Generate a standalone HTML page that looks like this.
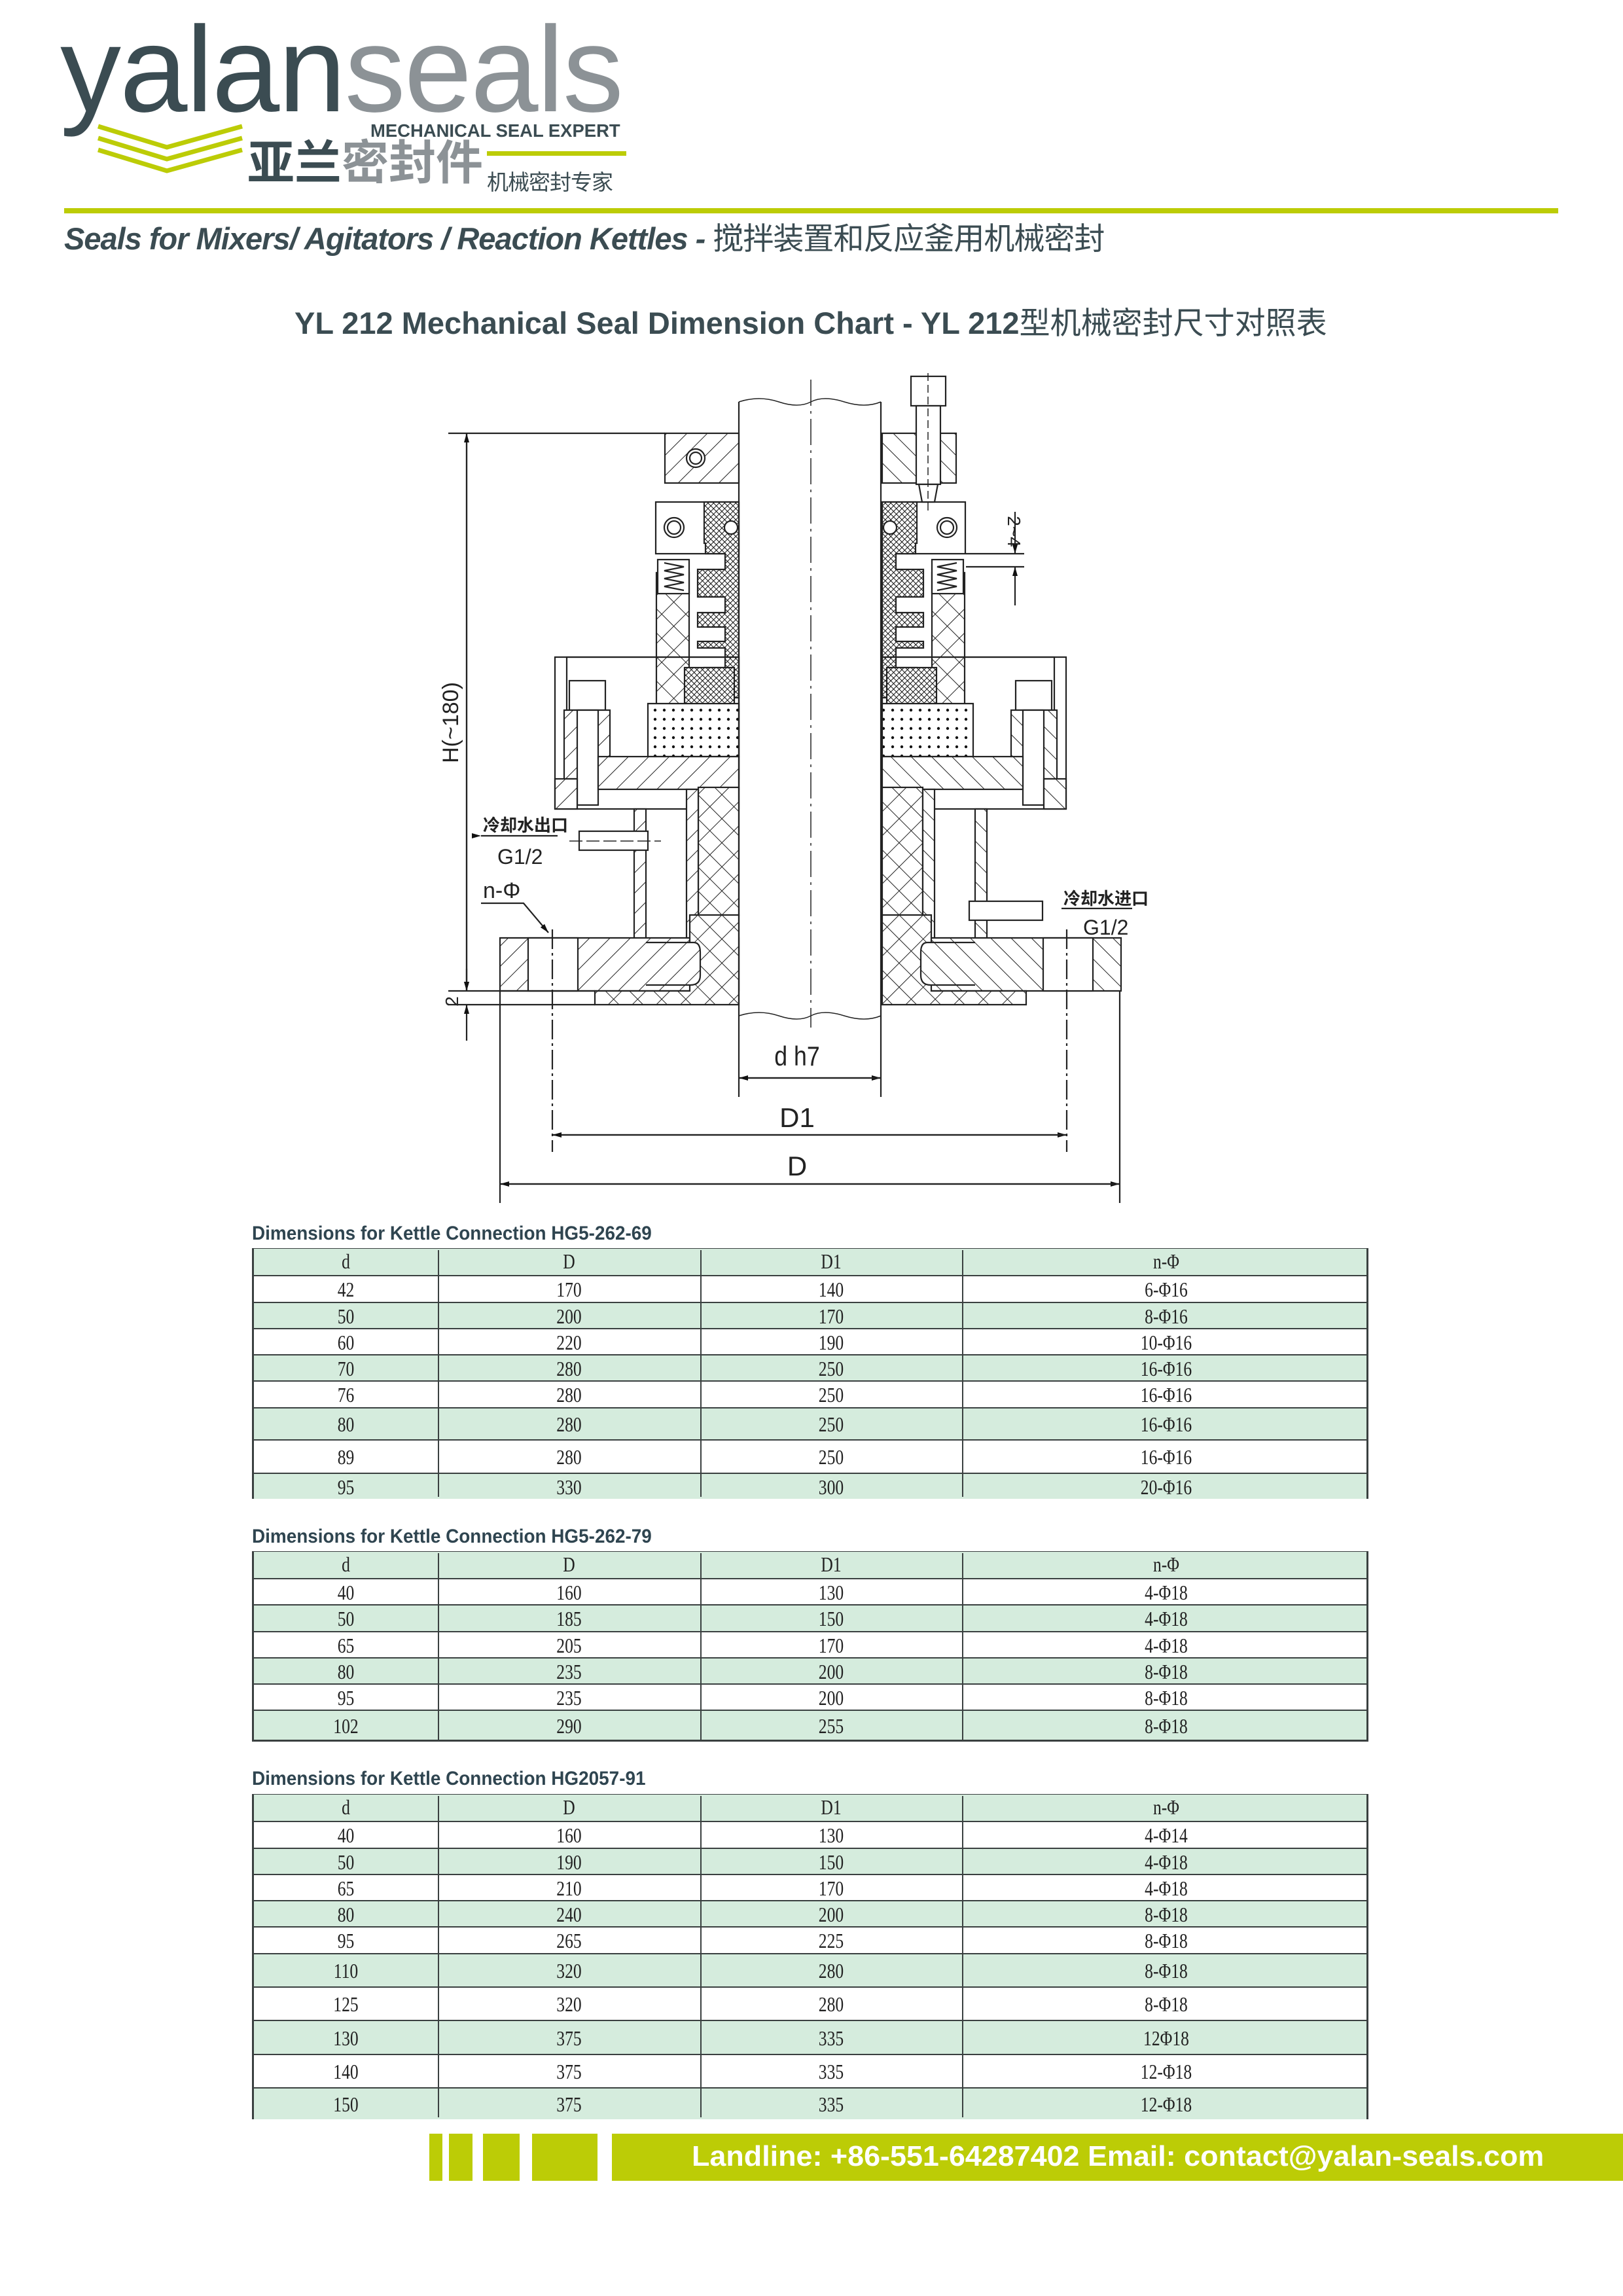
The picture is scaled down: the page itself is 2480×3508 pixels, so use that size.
<!DOCTYPE html>
<html><head><meta charset="utf-8">
<style>
*{margin:0;padding:0;box-sizing:border-box}
body{width:2480px;height:3508px;background:#fff;position:relative;overflow:hidden;font-family:"Liberation Sans","Noto Sans CJK SC",sans-serif}
.a{position:absolute;white-space:nowrap}
.tbl{position:absolute;left:385px;width:1706px;border:3px solid #3a4040}
.row{position:absolute;left:0;width:100%;border-top:2px solid #3a4040;font-family:"Liberation Serif","Noto Serif CJK SC",serif;font-size:32px;color:#222}
.row.g{background:#d5ecdd}
.row span{position:absolute;top:0;text-align:center;transform:scaleX(.8)}
.c1{left:0;width:281px}.c2{left:281px;width:401px}.c3{left:682px;width:400px}.c4{left:1082px;width:624px}
.vl{position:absolute;top:0;bottom:0;width:2px;background:#3a4040}
.cap{position:absolute;left:385px;font-size:30px;font-weight:bold;color:#2f4550;transform-origin:left;transform:scaleX(.93)}
</style></head><body>

<!-- logo -->
<div class="a" style="left:92px;top:14px;font-size:186px;letter-spacing:-2px;line-height:1;color:#3b4c52;font-weight:normal">yalan<span style="color:#8c9296">seals</span></div>
<svg class="a" style="left:145px;top:185px" width="240" height="80"><polyline points="5,8 110,40 225,8" fill="none" stroke="#bccc06" stroke-width="7"/><polyline points="5,26 110,58 225,26" fill="none" stroke="#bccc06" stroke-width="7"/><polyline points="5,44 110,76 225,44" fill="none" stroke="#bccc06" stroke-width="7"/></svg>
<div class="a" style="left:566px;top:184px;font-size:28px;font-weight:bold;color:#3b4c52;transform-origin:left;transform:scaleX(.98)">MECHANICAL SEAL EXPERT</div>
<div class="a" style="left:378px;top:214px;font-size:72px;font-weight:bold;line-height:1;color:#3b4c52;letter-spacing:0px">亚兰<span style="color:#8c9296">密封件</span></div>
<div class="a" style="left:744px;top:231px;width:213px;height:7px;background:#bccc06"></div>
<div class="a" style="left:744px;top:252px;font-size:33px;color:#3b4c52;letter-spacing:-1px">机械密封专家</div>

<div class="a" style="left:98px;top:318px;width:2283px;height:8px;background:#bccc06"></div>
<div class="a" style="left:98px;top:326px;font-size:47px;font-weight:bold;font-style:italic;color:#3b4c52;letter-spacing:-1px">Seals for Mixers/ Agitators / Reaction Kettles - <span style="font-weight:normal;font-style:normal">搅拌装置和反应釜用机械密封</span></div>
<div class="a" style="left:450px;top:455px;font-size:47px;font-weight:bold;color:#3b4c52;letter-spacing:0px">YL 212 Mechanical Seal Dimension Chart - YL 212<span style="font-weight:normal">型机械密封尺寸对照表</span></div>

<!-- drawing -->
<svg class="a" style="left:0;top:0" width="2480" height="1900" viewBox="0 0 2480 1900">
<defs>
<pattern id="h" width="22" height="22" patternUnits="userSpaceOnUse" patternTransform="rotate(45)"><rect width="22" height="22" fill="#fff"/><line x1="0" y1="0" x2="0" y2="22" stroke="#222" stroke-width="2"/></pattern>
<pattern id="x" width="26" height="26" patternUnits="userSpaceOnUse" patternTransform="rotate(45)"><rect width="26" height="26" fill="#fff"/><line x1="0" y1="0" x2="0" y2="26" stroke="#222" stroke-width="2"/><line x1="0" y1="0" x2="26" y2="0" stroke="#222" stroke-width="2"/></pattern>
<pattern id="d" width="6" height="6" patternUnits="userSpaceOnUse" patternTransform="rotate(45)"><rect width="6" height="6" fill="#fff"/><line x1="0" y1="0" x2="0" y2="6" stroke="#111" stroke-width="2"/><line x1="0" y1="0" x2="6" y2="0" stroke="#111" stroke-width="2"/></pattern>
<pattern id="p" width="14" height="14" patternUnits="userSpaceOnUse"><rect width="14" height="14" fill="#fff"/><circle cx="7" cy="7" r="2.2" fill="#111"/></pattern>
<marker id="ar" markerWidth="14" markerHeight="8" refX="14" refY="4" orient="auto" markerUnits="userSpaceOnUse"><path d="M0,0 L14,4 L0,8z" fill="#111"/></marker>
<g id="half" stroke="#222" stroke-width="2.2">
 <rect x="1016" y="662" width="113" height="76" fill="url(#h)"/>
 <circle cx="1063" cy="700" r="14" fill="#fff"/><circle cx="1063" cy="700" r="9" fill="none"/>
 <rect x="1002" y="767" width="127" height="79" fill="#fff"/>
 <circle cx="1030" cy="806" r="15" fill="#fff"/><circle cx="1030" cy="806" r="10" fill="none"/>
 <path d="M1076 767 H1129 V1066 H1076 V1020 H1108 V990 H1066 V980 H1108 V958 H1066 V936 H1108 V912 H1066 V870 H1108 V846 H1078 V830 H1076 Z" fill="url(#d)"/>
 <circle cx="1117" cy="806" r="10" fill="#fff"/>
 <path d="M1003 875 H1053 V1066 L1040 1087 H1003 Z" fill="url(#x)"/>
 <rect x="1005" y="855" width="48" height="52" fill="#fff"/>
 <polyline points="1015,860 1045,866 1015,872 1045,878 1015,884 1045,890 1015,896 1045,902" fill="none"/>
 <rect x="1046" y="1020" width="76" height="70" fill="url(#d)"/>
 <rect x="848" y="1004" width="281" height="232" fill="none"/>
 <rect x="866" y="1004" width="263" height="186" fill="none"/>
 <path d="M990 1075 H1129 V1156 H990 Z" fill="url(#p)"/>
 <rect x="870" y="1040" width="55" height="45" fill="#fff"/>
 <rect x="862" y="1085" width="70" height="105" fill="url(#h)"/>
 <rect x="882" y="1085" width="32" height="145" fill="#fff"/>
 <rect x="848" y="1190" width="34" height="46" fill="url(#h)"/>
 <rect x="914" y="1156" width="215" height="50" fill="url(#h)"/>
 <rect x="1067" y="1203" width="62" height="196" fill="url(#x)"/>
 <rect x="1049" y="1206" width="18" height="234" fill="url(#h)"/>
 <rect x="969" y="1236" width="18" height="204" fill="url(#h)"/>
 <path d="M764 1433 H1129 V1514 H764 Z" fill="url(#h)"/>
 <rect x="807" y="1433" width="76" height="81" fill="#fff"/>
 <path d="M1054 1398 H1129 V1535 H909 V1514 H1054 Z" fill="url(#x)"/>
 <path d="M987 1440 H1060 Q1070 1440 1070 1455 V1490 Q1070 1505 1055 1505 H987" fill="url(#h)"/>
</g>
</defs>
<use href="#half"/>
<use href="#half" transform="translate(2477,0) scale(-1,1)"/>
<g stroke="#222" stroke-width="2.2" fill="none">
 <line x1="1129" y1="614" x2="1129" y2="1676"/><line x1="1346" y1="614" x2="1346" y2="1676"/>
 <path d="M1129 614 Q1160 604 1190 614 T1239 614 T1290 614 T1346 614" stroke-width="1.5"/>
 <path d="M1129 1552 Q1160 1542 1190 1552 T1239 1552 T1290 1552 T1346 1552" stroke-width="1.5"/>
 <line x1="1239" y1="580" x2="1239" y2="1570" stroke-dasharray="40 8 4 8" stroke-width="1.5"/>
 <rect x="1392" y="575" width="53" height="45" fill="#fff"/>
 <rect x="1400" y="620" width="37" height="120" fill="#fff"/>
 <path d="M1404 740 H1433 L1428 767 H1409 Z" fill="#fff"/>
 <line x1="1418" y1="570" x2="1418" y2="780" stroke-dasharray="12 6" stroke-width="1.5"/>
 <rect x="885" y="1270" width="105" height="29" fill="#fff"/>
 <line x1="870" y1="1285" x2="1010" y2="1285" stroke-dasharray="20 6" stroke-width="1.5"/>
 <rect x="1481" y="1377" width="112" height="29" fill="#fff"/>
 <line x1="685" y1="662" x2="1016" y2="662"/>
 <line x1="713" y1="662" x2="713" y2="1514" marker-end="url(#ar)"/>
 <line x1="713" y1="1514" x2="713" y2="662" marker-end="url(#ar)"/>
 <line x1="685" y1="1514" x2="909" y2="1514"/><line x1="685" y1="1535" x2="909" y2="1535"/>
 <line x1="713" y1="1480" x2="713" y2="1514" marker-end="url(#ar)"/>
 <line x1="713" y1="1590" x2="713" y2="1535" marker-end="url(#ar)"/>
 <line x1="1551" y1="782" x2="1551" y2="846" marker-end="url(#ar)"/>
 <line x1="1551" y1="925" x2="1551" y2="866" marker-end="url(#ar)"/>
 <line x1="1476" y1="846" x2="1565" y2="846"/><line x1="1476" y1="866" x2="1565" y2="866"/>
 <line x1="1129" y1="1647" x2="1346" y2="1647" marker-end="url(#ar)"/>
 <line x1="1346" y1="1647" x2="1129" y2="1647" marker-end="url(#ar)"/>
 <line x1="844" y1="1420" x2="844" y2="1760" stroke-dasharray="30 6 4 6"/>
 <line x1="1630" y1="1420" x2="1630" y2="1760" stroke-dasharray="30 6 4 6"/>
 <line x1="844" y1="1734" x2="1630" y2="1734" marker-end="url(#ar)"/>
 <line x1="1630" y1="1734" x2="844" y2="1734" marker-end="url(#ar)"/>
 <line x1="764" y1="1514" x2="764" y2="1838"/><line x1="1711" y1="1514" x2="1711" y2="1838"/>
 <line x1="764" y1="1809" x2="1711" y2="1809" marker-end="url(#ar)"/>
 <line x1="1711" y1="1809" x2="764" y2="1809" marker-end="url(#ar)"/>
 <line x1="735" y1="1277" x2="852" y2="1277" marker-start="url(#ar)"/>
 <line x1="1622" y1="1388" x2="1730" y2="1388"/>
 <polyline points="735,1380 800,1380 838,1425" marker-end="url(#ar)"/>
</g>
<g font-family="Liberation Sans,Noto Sans CJK SC,sans-serif" fill="#222">
 <text x="1218" y="1628" font-size="42" text-anchor="middle" transform="translate(1218 0) scale(.85 1) translate(-1218 0)">d h7</text>
 <text x="1218" y="1722" font-size="42" text-anchor="middle">D1</text>
 <text x="1218" y="1796" font-size="42" text-anchor="middle">D</text>
 <text transform="translate(700 1104) rotate(-90)" font-size="34" text-anchor="middle">H(~180)</text>
 <text transform="translate(700 1530) rotate(-90)" font-size="28" text-anchor="middle">2</text>
 <text transform="translate(1540 812) rotate(90)" font-size="28" text-anchor="middle">2~4</text>
 <text x="738" y="1270" font-size="26" font-weight="bold">冷却水出口</text>
 <text x="760" y="1320" font-size="32">G1/2</text>
 <text x="738" y="1372" font-size="34">n-Φ</text>
 <text x="1625" y="1382" font-size="26" font-weight="bold">冷却水进口</text>
 <text x="1655" y="1428" font-size="32">G1/2</text>
</g>
</svg>

<!-- table 1 -->
<div class="cap" style="top:1868px">Dimensions for Kettle Connection HG5-262-69</div>
<div class="tbl" style="top:1907px;height:383px">
 <div class="row g" style="top:-2px;height:40px;line-height:38px;border-top:0"><span class="c1">d</span><span class="c2">D</span><span class="c3">D1</span><span class="c4">n-Φ</span></div>
 <div class="row" style="top:38px;height:41px;line-height:41px"><span class="c1">42</span><span class="c2">170</span><span class="c3">140</span><span class="c4">6-Φ16</span></div>
 <div class="row g" style="top:79px;height:40px;line-height:40px"><span class="c1">50</span><span class="c2">200</span><span class="c3">170</span><span class="c4">8-Φ16</span></div>
 <div class="row" style="top:119px;height:40px;line-height:40px"><span class="c1">60</span><span class="c2">220</span><span class="c3">190</span><span class="c4">10-Φ16</span></div>
 <div class="row g" style="top:159px;height:40px;line-height:40px"><span class="c1">70</span><span class="c2">280</span><span class="c3">250</span><span class="c4">16-Φ16</span></div>
 <div class="row" style="top:199px;height:41px;line-height:41px"><span class="c1">76</span><span class="c2">280</span><span class="c3">250</span><span class="c4">16-Φ16</span></div>
 <div class="row g" style="top:240px;height:49px;line-height:49px"><span class="c1">80</span><span class="c2">280</span><span class="c3">250</span><span class="c4">16-Φ16</span></div>
 <div class="row" style="top:289px;height:51px;line-height:51px"><span class="c1">89</span><span class="c2">280</span><span class="c3">250</span><span class="c4">16-Φ16</span></div>
 <div class="row g" style="top:340px;height:40px;line-height:40px"><span class="c1">95</span><span class="c2">330</span><span class="c3">300</span><span class="c4">20-Φ16</span></div>
 <div class="vl" style="left:281px"></div><div class="vl" style="left:682px"></div><div class="vl" style="left:1082px"></div>
</div>

<!-- table 2 -->
<div class="cap" style="top:2331px">Dimensions for Kettle Connection HG5-262-79</div>
<div class="tbl" style="top:2370px;height:291px">
 <div class="row g" style="top:-2px;height:40px;line-height:38px;border-top:0"><span class="c1">d</span><span class="c2">D</span><span class="c3">D1</span><span class="c4">n-Φ</span></div>
 <div class="row" style="top:38px;height:40px;line-height:40px"><span class="c1">40</span><span class="c2">160</span><span class="c3">130</span><span class="c4">4-Φ18</span></div>
 <div class="row g" style="top:78px;height:41px;line-height:41px"><span class="c1">50</span><span class="c2">185</span><span class="c3">150</span><span class="c4">4-Φ18</span></div>
 <div class="row" style="top:119px;height:40px;line-height:40px"><span class="c1">65</span><span class="c2">205</span><span class="c3">170</span><span class="c4">4-Φ18</span></div>
 <div class="row g" style="top:159px;height:40px;line-height:40px"><span class="c1">80</span><span class="c2">235</span><span class="c3">200</span><span class="c4">8-Φ18</span></div>
 <div class="row" style="top:199px;height:40px;line-height:40px"><span class="c1">95</span><span class="c2">235</span><span class="c3">200</span><span class="c4">8-Φ18</span></div>
 <div class="row g" style="top:239px;height:46px;line-height:46px"><span class="c1">102</span><span class="c2">290</span><span class="c3">255</span><span class="c4">8-Φ18</span></div>
 <div class="vl" style="left:281px"></div><div class="vl" style="left:682px"></div><div class="vl" style="left:1082px"></div>
</div>

<!-- table 3 -->
<div class="cap" style="top:2701px">Dimensions for Kettle Connection HG2057-91</div>
<div class="tbl" style="top:2741px;height:497px">
 <div class="row g" style="top:-2px;height:40px;line-height:38px;border-top:0"><span class="c1">d</span><span class="c2">D</span><span class="c3">D1</span><span class="c4">n-Φ</span></div>
 <div class="row" style="top:38px;height:41px;line-height:41px"><span class="c1">40</span><span class="c2">160</span><span class="c3">130</span><span class="c4">4-Φ14</span></div>
 <div class="row g" style="top:79px;height:40px;line-height:40px"><span class="c1">50</span><span class="c2">190</span><span class="c3">150</span><span class="c4">4-Φ18</span></div>
 <div class="row" style="top:119px;height:40px;line-height:40px"><span class="c1">65</span><span class="c2">210</span><span class="c3">170</span><span class="c4">4-Φ18</span></div>
 <div class="row g" style="top:159px;height:40px;line-height:40px"><span class="c1">80</span><span class="c2">240</span><span class="c3">200</span><span class="c4">8-Φ18</span></div>
 <div class="row" style="top:199px;height:41px;line-height:41px"><span class="c1">95</span><span class="c2">265</span><span class="c3">225</span><span class="c4">8-Φ18</span></div>
 <div class="row g" style="top:240px;height:51px;line-height:51px"><span class="c1">110</span><span class="c2">320</span><span class="c3">280</span><span class="c4">8-Φ18</span></div>
 <div class="row" style="top:291px;height:51px;line-height:51px"><span class="c1">125</span><span class="c2">320</span><span class="c3">280</span><span class="c4">8-Φ18</span></div>
 <div class="row g" style="top:342px;height:52px;line-height:52px"><span class="c1">130</span><span class="c2">375</span><span class="c3">335</span><span class="c4">12Φ18</span></div>
 <div class="row" style="top:394px;height:51px;line-height:51px"><span class="c1">140</span><span class="c2">375</span><span class="c3">335</span><span class="c4">12-Φ18</span></div>
 <div class="row g" style="top:445px;height:49px;line-height:49px"><span class="c1">150</span><span class="c2">375</span><span class="c3">335</span><span class="c4">12-Φ18</span></div>
 <div class="vl" style="left:281px"></div><div class="vl" style="left:682px"></div><div class="vl" style="left:1082px"></div>
</div>

<!-- footer -->
<div class="a" style="left:656px;top:3260px;width:20px;height:72px;background:#bccc06"></div>
<div class="a" style="left:686px;top:3260px;width:36px;height:72px;background:#bccc06"></div>
<div class="a" style="left:738px;top:3260px;width:56px;height:72px;background:#bccc06"></div>
<div class="a" style="left:813px;top:3260px;width:100px;height:72px;background:#bccc06"></div>
<div class="a" style="left:935px;top:3260px;width:1545px;height:72px;background:#bccc06"></div>
<div class="a" style="left:1057px;top:3270px;font-size:44px;font-weight:bold;color:#fff;transform-origin:left;transform:scaleX(1.02)">Landline: +86-551-64287402 Email: contact@yalan-seals.com</div>
</body></html>
